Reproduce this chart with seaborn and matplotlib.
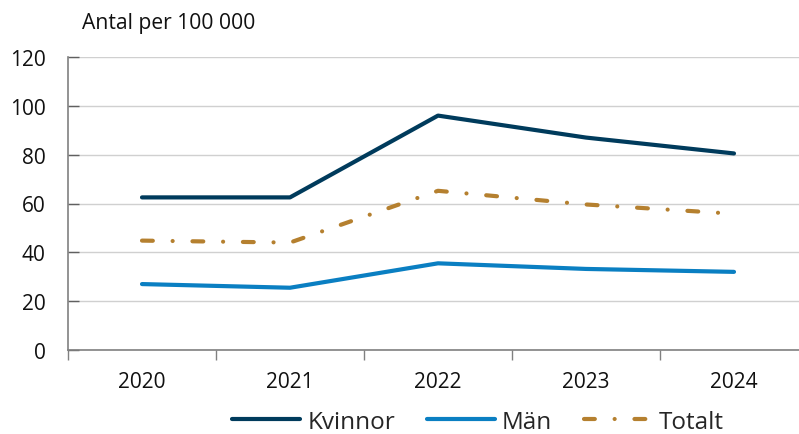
import pandas as pd
import numpy as np
import matplotlib.pyplot as plt
import seaborn as sns
from matplotlib.ticker import FixedLocator

years = ["2020", "2021", "2022", "2023", "2024"]
kvinnor = [62.5, 62.5, 96.0, 87.0, 80.5]
man = [27.0, 25.5, 35.5, 33.2, 32.0]
totalt = [44.8, 44.0, 65.2, 59.6, 55.8]
series_names = ["Kvinnor", "Män", "Totalt"]
y_ticks = [0, 20, 40, 60, 80, 100, 120]


def main():
    df = pd.DataFrame({"year": years * 3,
                       "value": kvinnor + man + totalt,
                       "serie": sum([[s] * len(years) for s in series_names], [])})

    sns.set_theme(style="white")
    plt.rcParams["font.family"] = ["Open Sans", "DejaVu Sans"]

    fig = plt.figure(figsize=(7.99, 4.35), dpi=100)
    ax = fig.add_axes([68 / 799, (435 - 351) / 435, 740 / 799, (351 - 58) / 435])

    colors = {"Kvinnor": "#003b5c", "Män": "#0a7fc2", "Totalt": "#b5802f"}

    sns.lineplot(data=df, x="year", y="value", hue="serie", hue_order=series_names,
                 palette=colors, linewidth=3, ax=ax,
                 sort=False, legend=True)

    # streckprick for Totalt
    dash_ls = (0, (2.6, 4.75, 0.01, 4.75))
    lines = ax.get_lines()[:len(series_names)]
    for name, line in zip(series_names, lines):
        line.set_solid_capstyle("round")
        line.set_dash_capstyle("round")
        if name == "Totalt":
            line.set_linestyle(dash_ls)

    ax.set_xlim(-0.5, 4.5)
    ax.set_ylim(0, 120)
    ax.set_yticks(y_ticks)
    ax.yaxis.grid(True, color="#d0d0d0", linewidth=1)
    ax.set_axisbelow(True)

    ax.xaxis.set_minor_locator(FixedLocator(np.arange(-0.5, 4.6, 1.0)))
    ax.tick_params(axis="x", which="major", length=0, labelsize=15, pad=15, colors="#111111")
    ax.tick_params(axis="x", which="minor", length=7, width=1, color="#808080", direction="out", bottom=True)
    ax.tick_params(axis="y", which="major", length=8, width=1, color="#606060", direction="in",
                   left=True, labelsize=15, pad=16, labelcolor="#111111")

    for side in ["top", "right"]:
        ax.spines[side].set_visible(False)
    for side in ["left", "bottom"]:
        ax.spines[side].set_color("#808080")
        ax.spines[side].set_linewidth(1.2)

    ax.set_xlabel("")
    ax.set_ylabel("")
    fig.text(82 / 799, 1 - 23 / 435, "Antal per 100 000", fontsize=15.2,
             va="center", ha="left", color="#111111")

    handles, labels = ax.get_legend_handles_labels()
    for h, lab in zip(handles, labels):
        h.set_solid_capstyle("round")
        h.set_dash_capstyle("round")
        if lab == "Totalt":
            h.set_linestyle(dash_ls)
    ax.legend(handles, labels, loc="center", bbox_to_anchor=(478 / 799, 1 - 423 / 435),
              bbox_transform=fig.transFigure, ncol=3, frameon=False, fontsize=17.5,
              handlelength=2.8, handletextpad=0.3, columnspacing=1.3)

    fig.savefig("out.png", dpi=100)
    plt.close(fig)


if __name__ == "__main__":
    main()
